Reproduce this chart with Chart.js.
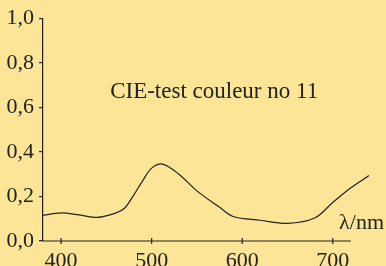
<!DOCTYPE html>
<html>
<head>
<meta charset="utf-8">
<script src="https://cdn.jsdelivr.net/npm/chart.js@4"></script>
<style>
  html, body { margin: 0; padding: 0; background: #fde598; }
  #wrap { width: 386px; height: 266px; position: relative; }
</style>
</head>
<body>
<div id="wrap"><canvas id="chart"></canvas></div>
<script>
// longueurs d'onde (nm) et facteur de luminance spectrale
const wavelengths = [380, 400, 420, 440, 460, 470, 480, 490, 500, 512, 530, 550, 575, 590, 620, 650, 680, 700, 720, 740];
const values      = [0.115, 0.126, 0.117, 0.106, 0.125, 0.147, 0.205, 0.27, 0.327, 0.345, 0.30, 0.225, 0.151, 0.110, 0.093, 0.079, 0.103, 0.173, 0.239, 0.294];
const xTicks = [400, 500, 600, 700];
const yTicks = [0, 0.2, 0.4, 0.6, 0.8, 1.0];
const title = 'CIE-test couleur no 11';
const xLabel = 'λ/nm';

const ink = '#222';
const serif = '"Liberation Serif", "DejaVu Serif", serif';

// axe des x dessiné jusqu'à 720 nm, titre et unité en texte
const extras = {
    id: 'extras',
    afterDraw(chart) {
        const { ctx, scales: { x, y } } = chart;
        ctx.save();
        ctx.strokeStyle = ink;
        ctx.lineWidth = 1.2;
        ctx.beginPath();
        ctx.moveTo(x.getPixelForValue(380) - 1, y.getPixelForValue(0));
        ctx.lineTo(x.getPixelForValue(720), y.getPixelForValue(0));
        ctx.stroke();
        xTicks.forEach(v => {
            const px = x.getPixelForValue(v);
            ctx.beginPath();
            ctx.moveTo(px, y.getPixelForValue(0) - 3);
            ctx.lineTo(px, y.getPixelForValue(0) + 3);
            ctx.stroke();
        });
        ctx.fillStyle = ink;
        ctx.font = '23px ' + serif;
        ctx.textAlign = 'center';
        ctx.textBaseline = 'alphabetic';
        ctx.fillText(title, x.getPixelForValue(569), y.getPixelForValue(0.64));
        ctx.font = '22px ' + serif;
        ctx.textAlign = 'left';
        ctx.fillText(xLabel, x.getPixelForValue(707), y.getPixelForValue(0.055));
        ctx.restore();
    }
};

new Chart(document.getElementById('chart'), {
    type: 'line',
    data: {
        datasets: [{
            data: wavelengths.map((w, i) => ({ x: w, y: values[i] })),
            borderColor: ink,
            borderWidth: 1.2,
            pointRadius: 0,
            tension: 0.35,
            fill: false
        }]
    },
    options: {
        responsive: true,
        maintainAspectRatio: false,
        animation: false,
        layout: { padding: { top: 14, right: 17, left: 0, bottom: 0 } },
        plugins: { legend: { display: false }, tooltip: { enabled: false } },
        scales: {
            x: {
                type: 'linear',
                min: 380,
                max: 740,
                afterBuildTicks: s => { s.ticks = xTicks.map(v => ({ value: v })); },
                afterFit: s => { s.height = 25; },
                border: { display: false },
                grid: { display: false },
                ticks: {
                    color: ink,
                    font: { family: serif, size: 22 },
                    padding: -1,
                    maxRotation: 0
                }
            },
            y: {
                min: 0,
                max: 1,
                afterBuildTicks: s => { s.ticks = yTicks.map(v => ({ value: v })); },
                afterFit: s => { s.width = 43; },
                border: { display: true, color: ink, width: 1.2 },
                grid: { drawOnChartArea: false, tickLength: 4, color: ink, lineWidth: 1.2 },
                ticks: {
                    color: ink,
                    font: { family: serif, size: 22 },
                    padding: 5,
                    callback: v => v.toFixed(1).replace('.', ',')
                }
            }
        }
    },
    plugins: [extras]
});
</script>
</body>
</html>
